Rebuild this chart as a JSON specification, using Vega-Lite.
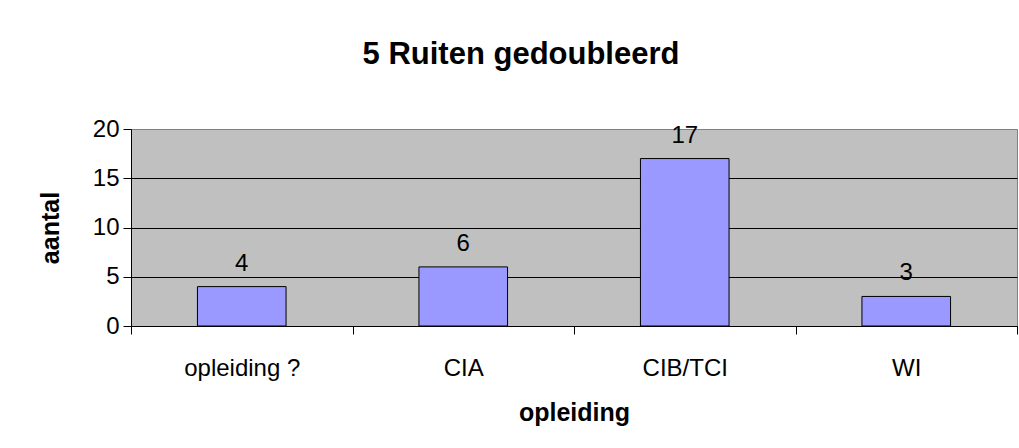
{
  "$schema": "https://vega.github.io/schema/vega-lite/v6.json",
  "width": 886,
  "height": 197,
  "autosize": "none",
  "padding": {"left": 131, "top": 129, "right": 2, "bottom": 122},
  "background": "white",
  "title": {
    "text": "5 Ruiten gedoubleerd",
    "font": "Liberation Sans",
    "fontSize": 31,
    "fontWeight": "bold",
    "color": "black",
    "anchor": "middle",
    "frame": "group",
    "dx": -53,
    "baseline": "alphabetic",
    "offset": 22
  },
  "data": {
    "values": [
      {"opleiding": "opleiding ?", "aantal": 4},
      {"opleiding": "CIA", "aantal": 6},
      {"opleiding": "CIB/TCI", "aantal": 17},
      {"opleiding": "WI", "aantal": 3}
    ]
  },
  "encoding": {
    "x": {
      "field": "opleiding",
      "type": "nominal",
      "sort": null,
      "scale": {"paddingInner": 0, "paddingOuter": 0},
      "axis": {
        "title": "opleiding",
        "labelAngle": 0,
        "tickBand": "extent",
        "tickSize": 8,
        "labelPadding": 22,
        "titlePadding": 20,
        "titleFontSize": 25
      }
    },
    "y": {
      "field": "aantal",
      "type": "quantitative",
      "scale": {"domain": [0, 20], "nice": false},
      "axis": {
        "title": "aantal",
        "values": [0, 5, 10, 15, 20],
        "grid": true,
        "gridColor": {"condition": {"test": "datum.value === 20", "value": "#808080"}, "value": "black"},
        "tickSize": 8,
        "labelPadding": 4,
        "titlePadding": 29,
        "titleFontSize": 25
      }
    }
  },
  "layer": [
    {
      "mark": {"type": "bar", "width": {"band": 0.4}, "fill": "#9999FF", "stroke": "black", "strokeWidth": 1}
    },
    {
      "mark": {"type": "text", "baseline": "alphabetic", "dy": -16, "font": "Liberation Sans", "fontSize": 24, "color": "black"},
      "encoding": {"text": {"field": "aantal"}}
    }
  ],
  "config": {
    "view": {"fill": "#C0C0C0", "stroke": "#808080"},
    "axis": {
      "labelFont": "Liberation Sans",
      "labelFontSize": 24,
      "labelColor": "black",
      "titleFont": "Liberation Sans",
      "titleFontWeight": "bold",
      "titleColor": "black",
      "domainColor": "black",
      "tickColor": "black",
      "gridWidth": 1
    }
  }
}
